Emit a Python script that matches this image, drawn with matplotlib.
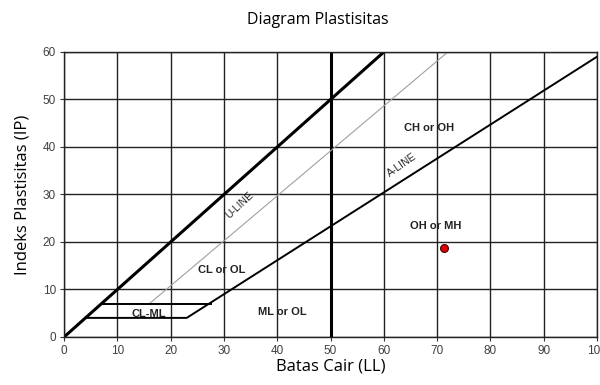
import matplotlib
matplotlib.use("Agg")
import matplotlib.pyplot as plt

# Data
x_ticks = [0, 10, 20, 30, 40, 50, 60, 70, 80, 90, 100]
y_ticks = [0, 10, 20, 30, 40, 50, 60]

thick_line_x = [0, 60]
thick_line_y = [0, 60]
vert_line_x = [50, 50]
vert_line_y = [0, 60]
u_line_x = [16, 72]
u_line_y = [7, 60]
a_line_x = [4, 23, 100]
a_line_y = [4, 4, 59]
upper_h_x = [7, 27.5]
upper_h_y = [7, 7]

sample_ll = [71.2]
sample_pi = [18.7]

zone_labels = ["CH or OH", "OH or MH", "CL or OL", "CL-ML", "ML or OL"]
zone_x = [68.5, 69.8, 29.5, 15.8, 41]
zone_y = [44, 23.4, 14.1, 4.8, 5.3]

fig = plt.figure(figsize=(6, 3.85), dpi=100)
ax = fig.add_axes([0.107, 0.125, 0.888, 0.74])

ax.set_xlim(0, 100)
ax.set_ylim(0, 60)
ax.set_xticks(x_ticks)
ax.set_yticks(y_ticks)
ax.grid(True, color="#222222", linewidth=1.0)
ax.set_axisbelow(True)
for s in ax.spines.values():
    s.set_color("#222222")
    s.set_linewidth(1.0)
ax.tick_params(axis="both", length=3, width=0.8, color="#333333",
               labelsize=8.5, labelcolor="#404040", pad=3)
ax.set_xticklabels([str(v) for v in x_ticks], family="Liberation Sans")
ax.set_yticklabels([str(v) for v in y_ticks], family="Liberation Sans")

ax.plot(thick_line_x, thick_line_y, color="black", lw=2.2)
ax.plot(vert_line_x, vert_line_y, color="black", lw=2.2)
ax.plot(u_line_x, u_line_y, color="#a0a0a0", lw=0.8)
ax.plot(a_line_x, a_line_y, color="black", lw=1.4)
ax.plot(upper_h_x, upper_h_y, color="black", lw=1.4)

ax.scatter(sample_ll, sample_pi, s=32, color="#dd0000", edgecolor="#400000",
           linewidth=0.8, zorder=5)

for t, x, y in zip(zone_labels, zone_x, zone_y):
    ax.text(x, y, t, fontsize=8, fontweight="bold", color="#222222",
            family="Liberation Sans", ha="center", va="center")

ax.text(33, 27.8, "U-LINE", fontsize=7.5, color="#222222", family="Liberation Sans",
        rotation=43, ha="center", va="center")
ax.text(63.4, 36.2, "A-LINE", fontsize=7.5, color="#222222", family="Liberation Sans",
        rotation=35, ha="center", va="center")

ax.set_xlabel("Batas Cair (LL)", fontsize=12, family="Open Sans", labelpad=1)
ax.set_ylabel("Indeks Plastisitas (IP)", fontsize=12, family="Open Sans", labelpad=9)
fig.suptitle("Diagram Plastisitas", fontsize=11.5, family="Open Sans", x=0.53, y=0.97)

fig.savefig("out.png", dpi=100)
